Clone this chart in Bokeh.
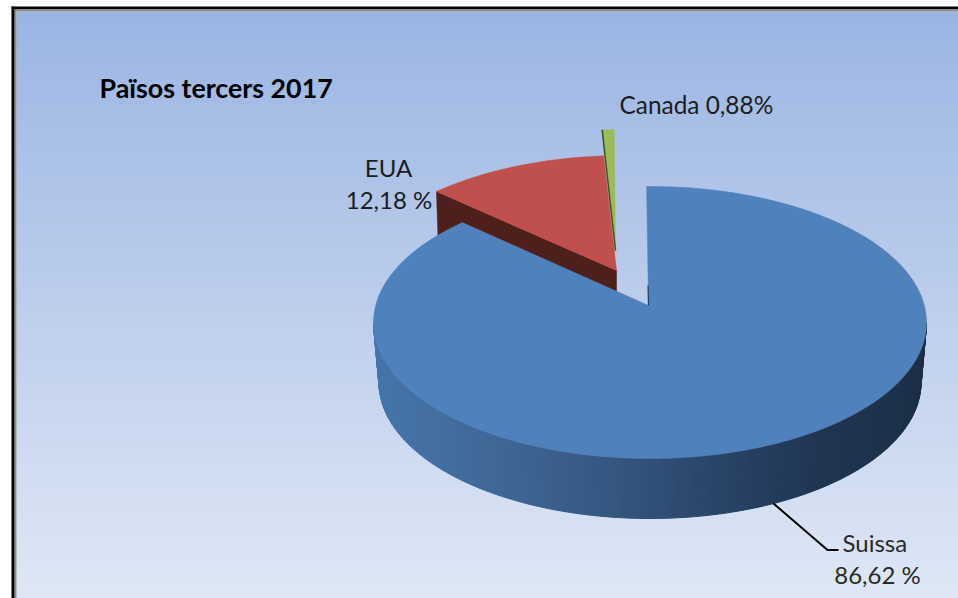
import math
from bokeh.plotting import figure
from bokeh.core.properties import value
from bokeh.embed import file_html
from bokeh.resources import INLINE

title = "Països tercers 2017"
categories = ["Suissa", "EUA", "Canada"]
shares = [86.62, 12.18, 0.88]

def pct(v, sp=" "):
    return f"{v:.2f}".replace(".", ",") + sp + "%"

W, H = 958, 598
p = figure(width=W, height=H, x_range=(0, W), y_range=(H, 0),
           output_backend="svg", toolbar_location=None, min_border=0,
           outline_line_color=None, background_fill_color="white", border_fill_color="white")
p.axis.visible = False
p.grid.visible = False

def lerp(a, b, f):
    return tuple(round(a[i] + (b[i] - a[i]) * f) for i in range(3))

def hexc(c):
    return "#%02x%02x%02x" % c

# background
top_c, bot_c = (155, 181, 227), (223, 231, 245)
L, T, R, B = 16, 11, W, H
ys = list(range(T, B, 2))
p.quad(left=L, right=R, top=ys, bottom=[y + 2.5 for y in ys],
       fill_color=[hexc(lerp(top_c, bot_c, (y - T) / (B - T))) for y in ys], line_color=None)
# frame
p.quad(left=14, right=R, top=8.5, bottom=11, fill_color="#8c8c8c", line_color=None)
p.quad(left=14, right=16, top=8.5, bottom=B, fill_color="#8c8c8c", line_color=None)
p.quad(left=11, right=R, top=6, bottom=8.5, fill_color="#000000", line_color=None)
p.quad(left=11, right=14, top=6, bottom=B, fill_color="#000000", line_color=None)

# pie geometry
RX, RY, DEPTH, RX_LOW = 276.5, 136.0, 60.0, 271.0
CX, CY = 649.5, 322.0

def rim(cx, cy, t, rx=RX, ry=RY):
    a = math.radians(t)
    return cx + rx * math.sin(a), cy - ry * math.cos(a)

def arc(cx, cy, t0, t1, n=160):
    return [rim(cx, cy, t0 + (t1 - t0) * i / n) for i in range(n + 1)]

deg = [s / 100 * 360 for s in shares]
t_main_start = -0.7
t_main_end = deg[0] * 1.0175
t_eua_end = t_main_end + deg[1] * 0.878
t_can_end = t_eua_end + deg[2] * 0.785

def poly(pts, color):
    p.patch([q[0] for q in pts], [q[1] for q in pts], fill_color=color, line_color=color, line_width=0.5)

# Canada
can_apex = (615, 250)
can_arc = arc(622, 265, t_eua_end, t_can_end, 12)
poly([can_apex] + can_arc, "#9bbb59")
p.line([can_arc[0][0], can_apex[0]], [can_arc[0][1], can_apex[1]], line_color="#3a5220", line_width=1.5)

# EUA
eua_apex = (616, 270)
eua_arc = arc(623.5, 291, t_main_end, t_eua_end, 60)
ex, ey = eua_arc[0]
poly([(ex, ey), eua_apex, (eua_apex[0], eua_apex[1] + DEPTH), (ex + 2, ey + DEPTH)], "#4f1f1c")
poly([eua_apex] + eua_arc, "#c0504d")

# Suissa side wall
stops = [(373, (70, 117, 170)), (480, (64, 105, 153)), (600, (54, 88, 130)),
         (720, (41, 68, 104)), (820, (31, 53, 82)), (926, (27, 46, 70))]

def wall_color(x):
    for (x0, c0), (x1, c1) in zip(stops, stops[1:]):
        if x <= x1:
            return hexc(lerp(c0, c1, max(0, (x - x0) / (x1 - x0))))
    return hexc(stops[-1][1])

xs_w, ys_w, cols = [], [], []
n = 180
for i in range(n):
    t0, t1 = 90 + 180 * i / n, 90 + 180 * (i + 1) / n
    a0, a1 = rim(CX, CY, t0), rim(CX, CY, t1)
    b0, b1 = rim(CX, CY + DEPTH, t0, RX_LOW), rim(CX, CY + DEPTH, t1, RX_LOW)
    xs_w.append([a0[0], a1[0], b1[0], b0[0]])
    ys_w.append([a0[1], a1[1], b1[1], b0[1]])
    cols.append(wall_color((a0[0] + a1[0]) / 2))
p.patches(xs_w, ys_w, fill_color=cols, line_color=cols, line_width=1)

# Suissa top
main_apex = (648, 305)
main_arc = arc(CX, CY, t_main_start, t_main_end, 400)
poly([main_apex] + main_arc, "#4f81bd")
p.line([647.6, main_apex[0]], [285, main_apex[1]], line_color="#24405f", line_width=1.2)

# leader
p.line([773, 827, 838], [503, 549.5, 549.5], line_color="#000000", line_width=2)

def label(x, y, s, align="left", size="24px", style="normal", color="#1c1c1c"):
    p.text([x], [y], text=[s], text_font=value("Lato"), text_font_size=size, text_align=align,
           text_baseline="alphabetic", text_font_style=style, text_color=color)

label(99, 87, title, size="26.8px", style="bold", color="#000000")
label(619, 104, f"{categories[2]} {pct(shares[2], '')}", size="24.4px")
label(388, 167, categories[1], align="center")
label(388.5, 199, pct(shares[1]), align="center")
label(842, 542, categories[0], color="#2a2a2a")
label(877, 574, pct(shares[0]), align="center", color="#2a2a2a")

open("out.html", "w").write(file_html(p, INLINE))
